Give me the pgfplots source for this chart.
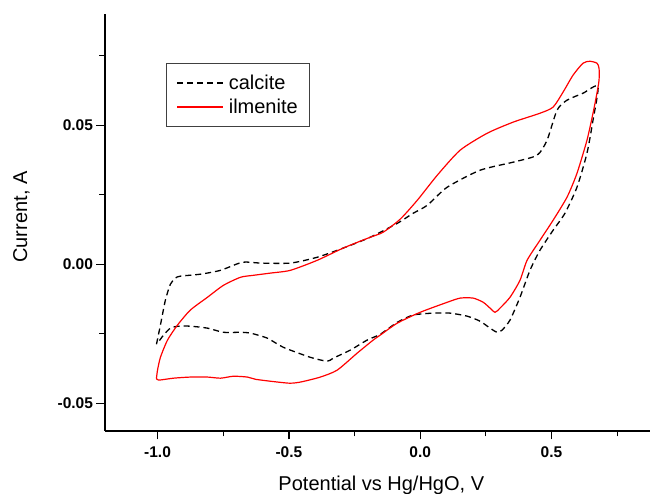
\documentclass[border=0pt]{standalone}
\usepackage{pgfplots}
\pgfplotsset{compat=1.18}
\usepackage{fontspec}
\setmainfont{Liberation Sans}
\definecolor{ilm}{RGB}{255,0,0}
\begin{document}
\begin{tikzpicture}
\begin{axis}[
 scale only axis, width=545pt, height=417pt,
 xmin=-1.2, xmax=0.875, ymin=-0.06, ymax=0.09,
 axis lines*=left,
 axis line style={line width=1.5pt},
 tick align=outside,
 xtick={-1,-0.5,0,0.5}, minor xtick={-0.75,-0.25,0.25,0.75},
 ytick={-0.05,0,0.05}, minor ytick={-0.025,0.025,0.075},
 major tick length=8.5pt, minor tick length=5.5pt,
 every tick/.style={black, line width=1.3pt},
 xticklabels={-1.0,-0.5,0.0,0.5},
 yticklabels={-0.05,0.00,0.05},
 scaled y ticks=false, scaled x ticks=false,
 ticklabel style={font=\bfseries\fontsize{15.5}{18}\selectfont},
 xticklabel style={yshift=-4pt},
 xlabel={Potential vs Hg/HgO, V},
 ylabel={Current, A},
 label style={font=\fontsize{20}{24}\selectfont},
 xlabel style={at={(axis description cs:0.507,-0.1079)}, anchor=north, inner sep=0pt},
 ylabel style={at={(axis description cs:-0.1688,0.513)}, anchor=north, inner sep=0pt},
 legend style={at={(0.112,0.8825)}, anchor=north west, draw=black!75, line width=1pt, fill=white,
   font=\fontsize{20}{24}\selectfont, inner xsep=10pt, inner ysep=9.5pt, row sep=4pt,
   cells={anchor=west},
   /tikz/every odd column/.append style={column sep=3pt}},
 legend image code/.code={\draw[#1] (0pt,0pt) -- (46pt,0pt);},
]
\addplot[black, line width=1.3pt, dash pattern=on 6pt off 4pt, smooth, tension=0.4] coordinates {
(-1.004,-0.0288) (-0.989,-0.0219) (-0.970,-0.0129) (-0.951,-0.0072) (-0.932,-0.0050)
(-0.913,-0.0043) (-0.837,-0.0036) (-0.760,-0.0022) (-0.677,0.0007) (-0.608,0.0004)
(-0.494,0.0004) (-0.392,0.0025) (-0.293,0.0058) (-0.190,0.0097) (-0.087,0.0147)
(-0.027,0.0183) (0.027,0.0212) (0.103,0.0277) (0.228,0.0338) (0.354,0.0367)
(0.445,0.0392) (0.483,0.0446) (0.521,0.0554) (0.559,0.0590) (0.620,0.0615) (0.677,0.0640)
(0.658,0.0518) (0.635,0.0399) (0.597,0.0277) (0.551,0.0183) (0.506,0.0122) (0.456,0.0050)
(0.418,-0.0022) (0.380,-0.0119) (0.342,-0.0201) (0.312,-0.0237) (0.293,-0.0245)
(0.266,-0.0230) (0.228,-0.0205) (0.179,-0.0187) (0.114,-0.0176) (0.049,-0.0176)
(-0.027,-0.0183) (-0.087,-0.0209) (-0.152,-0.0252) (-0.202,-0.0273) (-0.266,-0.0309)
(-0.331,-0.0338) (-0.354,-0.0349) (-0.418,-0.0335) (-0.521,-0.0299) (-0.582,-0.0266)
(-0.646,-0.0248) (-0.684,-0.0245) (-0.749,-0.0245) (-0.810,-0.0230) (-0.875,-0.0223)
(-0.920,-0.0223) (-0.951,-0.0230) (-0.977,-0.0255) (-1.000,-0.0284)
};
\addlegendentry{calcite}
\addplot[ilm, line width=1.2pt, smooth, tension=0.4] coordinates {
(-1.004,-0.0410) (-1.000,-0.0381) (-0.989,-0.0335) (-0.962,-0.0273) (-0.924,-0.0219)
(-0.875,-0.0165) (-0.810,-0.0119) (-0.749,-0.0076) (-0.684,-0.0047) (-0.635,-0.0040)
(-0.570,-0.0032) (-0.494,-0.0022) (-0.392,0.0014) (-0.293,0.0058) (-0.190,0.0097)
(-0.141,0.0115) (-0.076,0.0162) (-0.011,0.0230) (0.065,0.0320) (0.152,0.0410)
(0.255,0.0471) (0.354,0.0511) (0.456,0.0543) (0.506,0.0565) (0.544,0.0619)
(0.582,0.0680) (0.620,0.0723) (0.646,0.0730) (0.673,0.0723) (0.681,0.0705) (0.681,0.0662)
(0.673,0.0615) (0.658,0.0543) (0.635,0.0446) (0.597,0.0327) (0.559,0.0241) (0.506,0.0158)
(0.456,0.0086) (0.407,0.0014) (0.380,-0.0058) (0.342,-0.0119) (0.304,-0.0158)
(0.285,-0.0173) (0.266,-0.0158) (0.240,-0.0137) (0.202,-0.0122) (0.152,-0.0122)
(0.103,-0.0137) (0.000,-0.0173) (-0.087,-0.0212) (-0.152,-0.0255) (-0.179,-0.0273)
(-0.240,-0.0320) (-0.316,-0.0381) (-0.380,-0.0406) (-0.456,-0.0424) (-0.498,-0.0428)
(-0.570,-0.0421) (-0.627,-0.0414) (-0.658,-0.0406) (-0.711,-0.0403) (-0.760,-0.0410)
(-0.810,-0.0406) (-0.875,-0.0406) (-0.939,-0.0410) (-0.996,-0.0417) (-1.004,-0.0410)
};
\addlegendentry{ilmenite}
\end{axis}
\pgfresetboundingbox
\path[use as bounding box] ([shift={(-105pt,-63pt)}]current axis.south west) rectangle ([shift={(0pt,14pt)}]current axis.north east);
\end{tikzpicture}
\end{document}
